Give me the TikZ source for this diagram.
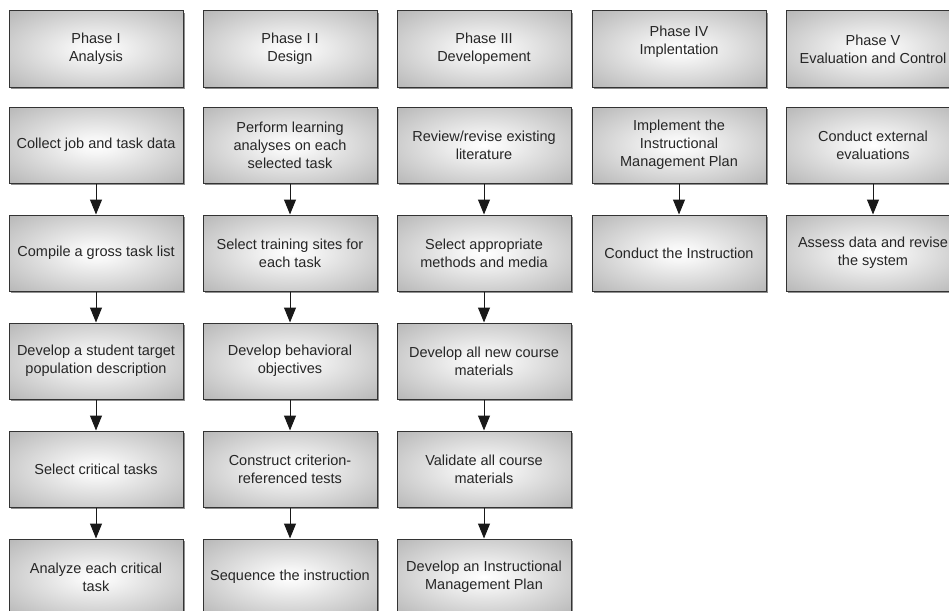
\documentclass[tikz,border=0pt]{standalone}
\usepackage{fontspec}
\setmainfont{Liberation Sans}
\usetikzlibrary{arrows.meta,shadows}
\pgfdeclareradialshading{boxshade}{\pgfpoint{0bp}{0bp}}{color(0bp)=(white); color(6bp)=(white!96!black); color(50bp)=(black!40); color(72bp)=(black!48)}
\begin{document}
\begin{tikzpicture}[x=1pt, y=-1pt,
    stepbox/.style={draw=black!80, line width=1pt, shading=boxshade,
      minimum width=174pt, minimum height=76pt, inner sep=2pt,
      align=center, text=black!85,
      font=\fontsize{14.5}{18}\selectfont,
      drop shadow={shadow xshift=2pt, shadow yshift=-2pt, fill=black!55, opacity=0.8}},
    flow/.style={-{Triangle[length=15pt,width=12pt]}, line width=1pt, black!90}]
  \useasboundingbox (0,0) rectangle (949,610);
  \clip (0,0) rectangle (949,610);
  % phase titles
  \node[stepbox] (p1) at (96,49) {Phase I\\Analysis};
  \node[stepbox] (p2) at (290,49) {Phase I I\\Design};
  \node[stepbox] (p3) at (484,49) {Phase III\\Developement};
  \node[stepbox] (p4) at (679,49) {Phase IV\\Implentation\\\mbox{}};
  \node[stepbox] (p5) at (873,49) {Phase V\\Evaluation and Control};
  % phase I
  \node[stepbox] (a1) at (96,145) {Collect job and task data};
  \node[stepbox] (a2) at (96,253) {Compile a gross task list};
  \node[stepbox] (a3) at (96,361) {Develop a student target\\population description};
  \node[stepbox] (a4) at (96,469) {Select critical tasks};
  \node[stepbox] (a5) at (96,577) {Analyze each critical\\task};
  % phase II
  \node[stepbox] (d1) at (290,145) {Perform learning\\analyses on each\\selected task};
  \node[stepbox] (d2) at (290,253) {Select training sites for\\each task};
  \node[stepbox] (d3) at (290,361) {Develop behavioral\\objectives};
  \node[stepbox] (d4) at (290,469) {Construct criterion-\\referenced tests};
  \node[stepbox] (d5) at (290,577) {Sequence the instruction};
  % phase III
  \node[stepbox] (v1) at (484,145) {Review/revise existing\\literature};
  \node[stepbox] (v2) at (484,253) {Select appropriate\\methods and media};
  \node[stepbox] (v3) at (484,361) {Develop all new course\\materials};
  \node[stepbox] (v4) at (484,469) {Validate all course\\materials};
  \node[stepbox] (v5) at (484,577) {Develop an Instructional\\Management Plan};
  % phase IV and V
  \node[stepbox] (i1) at (679,145) {Implement the\\Instructional\\Management Plan};
  \node[stepbox] (i2) at (679,253) {Conduct the Instruction};
  \node[stepbox] (e1) at (873,145) {Conduct external\\evaluations};
  \node[stepbox] (e2) at (873,253) {Assess data and revise\\the system};
  % arrows
  \foreach \c in {a,d,v}
    \foreach \i/\j in {1/2,2/3,3/4,4/5}
      \draw[flow] (\c\i) -- (\c\j);
  \draw[flow] (i1) -- (i2);
  \draw[flow] (e1) -- (e2);
\end{tikzpicture}
\end{document}
